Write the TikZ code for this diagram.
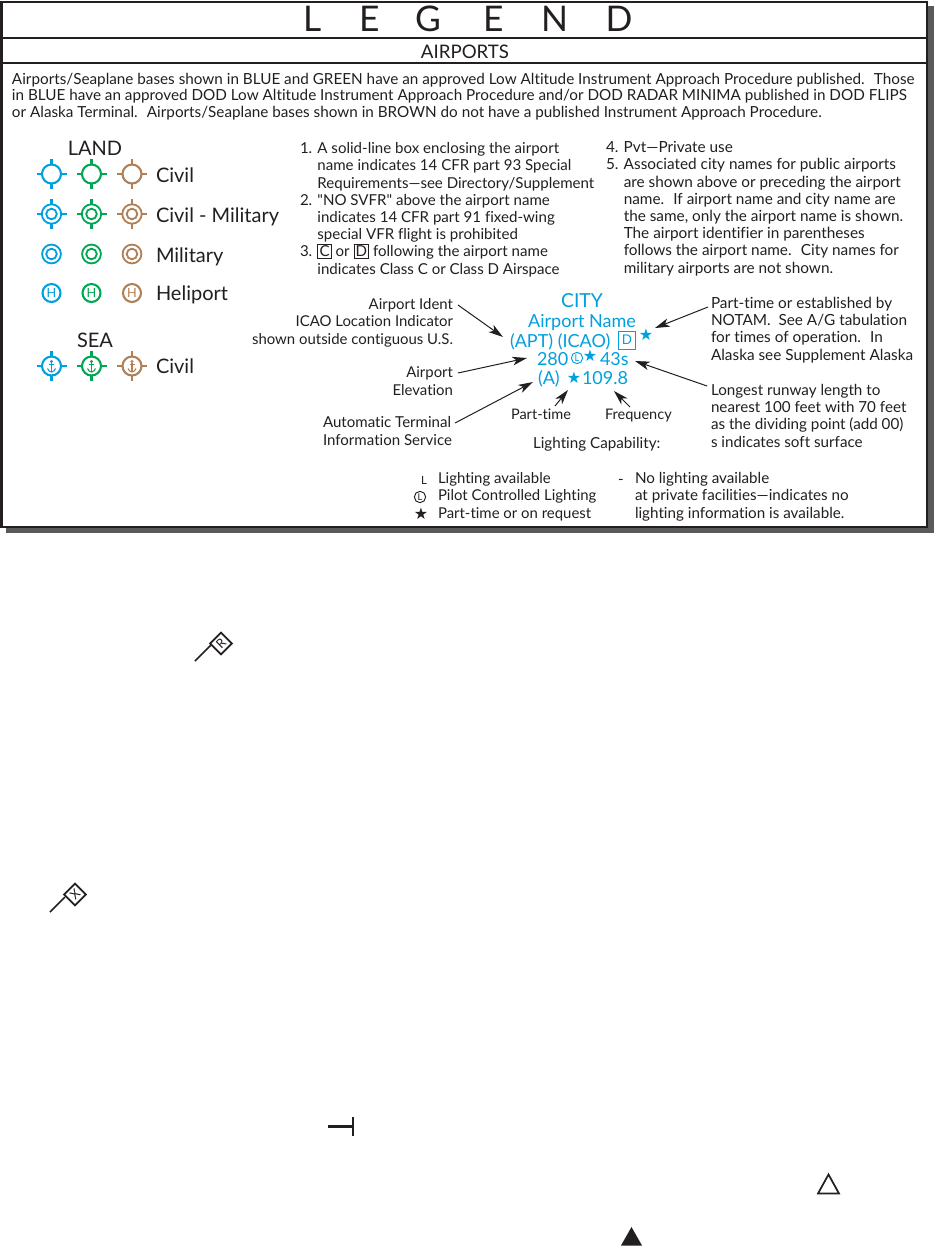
\documentclass[tikz,border=0pt]{standalone}
\usepackage{fontspec}
\usepackage{xcolor}
\usetikzlibrary{arrows.meta}
\setmainfont{Lato}
\newfontfamily\lat{Lato}[Ligatures=NoCommon]
\AtBeginDocument{\lat}
\newfontfamily\symf{DejaVu Sans}
\definecolor{ink}{HTML}{231F20}
\definecolor{shadowc}{HTML}{5A5A5A}
\definecolor{ablue}{HTML}{00A0DF}
\definecolor{agreen}{HTML}{00A651}
\definecolor{abrown}{HTML}{B17F55}
\newcommand{\fs}[2]{\fontsize{#1}{#2}\selectfont}
\newcommand{\cbx}[1]{\smash{\setlength{\fboxsep}{1pt}\setlength{\fboxrule}{0.6pt}\fbox{#1}}}
\newcommand{\symbolrow}[3]{%
  \begin{scope}[shift={(51.5,#2)}]\begin{scope}[color=ablue]#3{ablue}\end{scope}\end{scope}
  \begin{scope}[shift={(91.5,#2)}]\begin{scope}[color=agreen]#3{agreen}\end{scope}\end{scope}
  \begin{scope}[shift={(132,#2)}]\begin{scope}[color=abrown]#3{abrown}\end{scope}\end{scope}}
\newcommand{\ticks}{\foreach \a in {0,90,180,270}{\draw[sym] (\a:9.5) -- (\a:15);}}
\newcommand{\civilsym}[1]{\draw[sym] (0,0) circle (9.5);\ticks}
\newcommand{\cmsym}[1]{\draw[sym,line width=1.35pt] (0,0) circle (9.7);\draw[sym,line width=1.35pt] (0,0) circle (5.3);\ticks}
\newcommand{\milsym}[1]{\draw[sym,line width=1.35pt] (0,0) circle (9.4);\draw[sym,line width=1.35pt] (0,0) circle (5.3);}
\newcommand{\helisym}[1]{\draw[sym] (0,0) circle (9);\node[inner sep=0,text=#1,font=\fs{9.5}{9.5}] at (0,0) {H};}
\newcommand{\seasym}[1]{\draw[sym] (0,0) circle (9.5);\ticks
  \fill[#1] (0,-4.5) circle (1.6);
  \draw[#1,line width=.8pt] (0,-3.5) -- (0,5.5) (-2.5,-1.5) -- (2.5,-1.5);
  \draw[#1,line width=.8pt] (-4,2.5) .. controls (-3.5,5) and (-1.5,5.5) .. (0,6) .. controls (1.5,5.5) and (3.5,5) .. (4,2.5);}
\tikzset{
  x=0.75pt,y=-0.75pt,
  sym/.style={line width=1.55pt},
  body/.style={inner sep=0,outer sep=0,anchor=base west,align=left,text=ink,font=\fs{11.3}{12.9}},
  bodyr/.style={body,anchor=base east,align=right,font=\fs{11.2}{12.9}},
  big/.style={inner sep=0,outer sep=0,anchor=base west,text=ink,font=\fs{15}{15}},
  bluet/.style={inner sep=0,outer sep=0,anchor=base west,text=ablue,font=\fs{13.5}{13.5}},
  lead/.style={draw=ink,line width=.75pt,-{Stealth[length=11pt,width=6.5pt,inset=3pt]}},
  rule/.style={draw=ink,line width=1.5pt},
  starb/.style={inner sep=0,font=\fs{12}{12}\symf},
}
\begin{document}
\begin{tikzpicture}
\useasboundingbox (0,0) rectangle (936,1246);
% frame with shadow
\fill[shadowc] (6,6) rectangle (934,533);
\fill[white] (1,1) rectangle (927,527);
\draw[rule] (1.5,1.5) rectangle (927,527);
\draw[rule,line width=2pt] (1.5,38) -- (927,38);
\draw[rule] (1.5,62.5) -- (927,62.5);
% title
\node[big,font=\fs{26.5}{26.5}] (title) at (303,31) {\makebox[42pt][l]{L}\makebox[42pt][l]{E}\makebox[51pt][l]{G}\makebox[43.5pt][l]{E}\makebox[48.5pt][l]{N}D};
\node[big,anchor=base,font=\fs{14}{14}] (airports) at (465,58) {AIRPORTS};
\node[body,font=\fs{11.45}{12.3}] (intro) at (12,117) {Airports/Seaplane bases shown in BLUE and GREEN have an approved Low Altitude Instrument Approach Procedure published.~ Those\\in BLUE have an approved DOD Low Altitude Instrument Approach Procedure and/or DOD RADAR MINIMA published in DOD FLIPS\\or Alaska Terminal.~ Airports/Seaplane bases shown in BROWN do not have a published Instrument Approach Procedure.};
% symbols
\node[big,anchor=base] (land) at (95,155) {LAND};
\node[big,anchor=base] (sea) at (95,347) {SEA};
\symbolrow{a}{174}{\civilsym}
\symbolrow{b}{214}{\cmsym}
\symbolrow{c}{254}{\milsym}
\symbolrow{d}{293}{\helisym}
\symbolrow{e}{366}{\seasym}
\node[big] (l1) at (156,182) {Civil};
\node[big] (l2) at (156,222) {Civil - Military};
\node[big] (l3) at (156,262) {Military};
\node[big] (l4) at (156,300) {Heliport};
\node[big] (l5) at (156,373) {Civil};
% notes
\node[body] (n1) at (300,274) {1. A solid-line box enclosing the airport\\
\phantom{1. }name indicates 14 CFR part 93 Special\\
\phantom{1. }Requirements—see Directory/Supplement\\
2. "NO SVFR" above the airport name\\
\phantom{1. }indicates 14 CFR part 91 fixed-wing\\
\phantom{1. }special VFR flight is prohibited\\
3. \cbx{C} or \cbx{D} following the airport name\\
\phantom{1. }indicates Class C or Class D Airspace};
\node[body,font=\fs{11.5}{12.9}] (n2) at (606,273) {4. Pvt—Private use\\
5. Associated city names for public airports\\
\phantom{5. }are shown above or preceding the airport\\
\phantom{5. }name.~ If airport name and city name are\\
\phantom{5. }the same, only the airport name is shown.\\
\phantom{5. }The airport identifier in parentheses\\
\phantom{5. }follows the airport name.~ City names for\\
\phantom{5. }military airports are not shown.};
% central blue block
\node[bluet,anchor=base,font=\fs{14.5}{14.5}] (city) at (582,307) {CITY};
\node[bluet,anchor=base] (name) at (582,327) {Airport Name};
\node[bluet] (apt) at (510,347) {(APT) (ICAO)};
\node[inner sep=0,minimum width=12.75pt,minimum height=13.5pt,draw=ablue,line width=.7pt,text=ablue,font=\fs{10}{10}] (dbox) at (627,340) {D};
\node[starb,text=ablue] (s1) at (646,335) {★};
\node[bluet] (elev) at (537,365) {280};
\node[circle,inner sep=0,minimum size=8.5pt,draw=ablue,line width=.7pt,text=ablue,font=\fs{7}{7}] (lc) at (577,358) {L};
\node[starb,text=ablue] (s2) at (590,356) {★};
\node[bluet] (rwy) at (600,365) {43s};
\node[bluet] (atis) at (538,384) {(A)};
\node[starb,text=ablue] (s3) at (574,378) {★};
\node[bluet] (freq) at (582,384) {109.8};
% labels around
\node[bodyr] (t1) at (453,344) {Airport Ident\\ICAO Location Indicator\\shown outside contiguous U.S.};
\node[bodyr] (t2) at (453,395) {Airport\\Elevation};
\node[body] (t3) at (323,445) {Automatic Terminal\\Information Service};
\node[body,font=\fs{10.9}{12.9}] (t4) at (511,419) {Part-time};
\node[body,font=\fs{10.9}{12.9}] (t5) at (605,419) {Frequency};
\node[body,font=\fs{11.4}{12.9}] (t6) at (533,448) {Lighting Capability:};
\node[body,font=\fs{11.5}{12.9}] (t7) at (711,360) {Part-time or established by\\NOTAM.~ See A/G tabulation\\for times of operation.~ In\\Alaska see Supplement Alaska};
\node[body,font=\fs{11.4}{12.9}] (t8) at (711,447) {Longest runway length to\\nearest 100 feet with 70 feet\\as the dividing point (add 00)\\s indicates soft surface};
% leaders
\coordinate (a1s) at (458,305); \coordinate (a1e) at (503,337);
\coordinate (a2s) at (458,373); \coordinate (a2e) at (527,358);
\coordinate (a3s) at (455,423); \coordinate (a3e) at (533,382);
\coordinate (a4s) at (555,406); \coordinate (a4e) at (568,390);
\coordinate (a5s) at (630,407); \coordinate (a5e) at (614,391);
\coordinate (a6s) at (708,307); \coordinate (a6e) at (655,328);
\coordinate (a7s) at (707,386); \coordinate (a7e) at (635,361);
\foreach \i in {1,...,7}{\draw[lead] (a\i s) -- (a\i e);}
% lighting table
\node[body,font=\fs{8.5}{8.5}] (k1) at (421,484) {L};
\node[circle,inner sep=0,minimum size=8.5pt,draw=ink,line width=.7pt,text=ink,font=\fs{7}{7}] (k2) at (420,497) {L};
\node[starb,text=ink] (k3) at (421,514) {★};
\node[body,font=\fs{11.2}{12.9}] (k4) at (438,518) {Lighting available\\Pilot Controlled Lighting\\Part-time or on request};
\node[body] (k5) at (618,484) {-};
\node[body,font=\fs{11.4}{12.9}] (k6) at (635,518) {No lighting available\\at private facilities—indicates no\\lighting information is available.};
% lower symbols
\draw[ink,line width=1.3pt] (195,661) -- (211,645);
\node[draw=ink,line width=1.3pt,fill=white,rotate=45,minimum size=11.6pt,inner sep=0,font=\fs{9.5}{9.5},text=ink] (fr) at (221,643.5) {R};
\draw[ink,line width=1.3pt] (50,912) -- (65,897);
\node[draw=ink,line width=1.3pt,fill=white,rotate=45,minimum size=11.6pt,inner sep=0,font=\fs{9.5}{9.5},text=ink] (fx) at (75,894.5) {X};
\draw[ink,line width=1.7pt] (328,1126.5) -- (353,1126.5) (353,1117) -- (353,1136);
\draw[ink,line width=1.3pt] (828.5,1174.5) -- (839,1193.5) -- (818,1193.5) -- cycle;
\fill[ink] (631.5,1227) -- (642,1245.5) -- (621,1245.5) -- cycle;
\end{tikzpicture}
\end{document}
